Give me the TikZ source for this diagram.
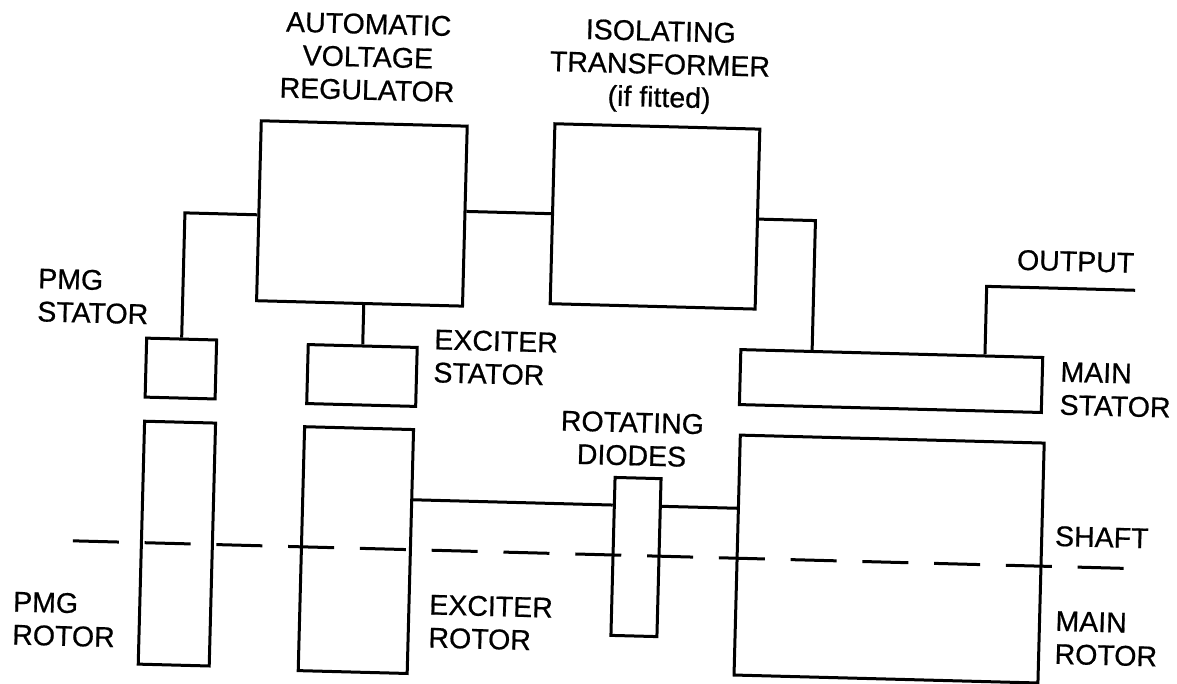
\documentclass[tikz,border=0pt]{standalone}
\usepackage{fontspec}
\setmainfont{Liberation Sans}
\usetikzlibrary{calc}
\tikzset{
  box/.style={draw, rectangle, line width=3pt, inner sep=0pt},
  wire/.style={line width=3pt},
  shaftline/.style={line width=3pt, dash pattern=on 46pt off 25.8pt},
  lbl/.style={font=\fontsize{28.5}{33}\selectfont\addfontfeature{FakeBold=0.6}, inner sep=0pt, outer sep=0pt},
}
\begin{document}
\begin{tikzpicture}[x=1pt,y=-1pt]
\fill[white] (0,0) rectangle (1177,684);
\useasboundingbox (0,0) rectangle (1177,684);
\begin{scope}[rotate around={-1.5:(588,342)}, transform shape]
  % boxes
  \node[box, minimum width=206pt, minimum height=180pt] (avr)  at (358.6,219.4) {};
  \node[box, minimum width=205pt, minimum height=180pt] (iso)  at (651.7,214.7) {};
  \node[box, minimum width=70pt,  minimum height=59pt]  (pmgs) at (181.7,379.2) {};
  \node[box, minimum width=109pt, minimum height=59pt]  (exs)  at (362.9,381.4) {};
  \node[box, minimum width=302pt, minimum height=55pt]  (ms)   at (892,373.1) {};
  \node[box, minimum width=71pt,  minimum height=243pt] (pmgr) at (182.3,554.3) {};
  \node[box, minimum width=109pt, minimum height=244pt] (exr)  at (361.4,556.1) {};
  \node[box, minimum width=46pt,  minimum height=158pt] (dio)  at (641.6,555.7) {};
  \node[box, minimum width=304pt, minimum height=240pt] (mr)   at (894.7,551.1) {};

  % labels
  \node[lbl, align=center] (avrl) at (360.5,62.8) {AUTOMATIC\\VOLTAGE\\REGULATOR};
  \node[lbl, align=center] (isol) at (652.7,65.1) {ISOLATING\\TRANSFORMER\\(if fitted)};
  \node[lbl, align=left, anchor=west] (pmgsl) at (36.8,309.4) {PMG\\STATOR};
  \node[lbl, align=left, anchor=west] (exsl) at (434.4,360) {EXCITER\\STATOR};
  \node[lbl] (outl) at (1073.4,248.7) {OUTPUT};
  \node[lbl, align=left, anchor=west] (msl) at (1061.2,376.1) {MAIN\\STATOR};
  \node[lbl, align=center] (diol) at (634.5,437.8) {ROTATING\\DIODES};
  \node[lbl, anchor=west] (shl) at (1060.1,523.8) {SHAFT};
  \node[lbl, align=left, anchor=west] (pmgrl) at (20.2,633.1) {PMG\\ROTOR};
  \node[lbl, align=left, anchor=west] (exrl) at (436.3,625.2) {EXCITER\\ROTOR};
  \node[lbl, align=left, anchor=west] (mrl) at (1062.7,625.3) {MAIN\\ROTOR};

  % helper points (aligned with the rotated frame)
  \coordinate (p1) at ($(avr.west)!0.045!(avr.south west)$);
  \coordinate (c1) at ($(pmgs.south)!(p1)!(pmgs.north)$);
  \coordinate (a1) at ($(avr.north east)!(iso.west)!(avr.south east)$);
  \coordinate (t)  at ($(ms.north west)!0.239!(ms.north east)$);
  \coordinate (tb) at ($(ms.south west)!0.239!(ms.south east)$);
  \coordinate (c2) at ($(t)!(iso.east)!(tb)$);
  \coordinate (a2) at ($(avr.south west)!(exs.north)!(avr.south east)$);
  \coordinate (u)  at ($(ms.north west)!0.806!(ms.north east)$);
  \coordinate (ub) at ($(ms.south west)!0.806!(ms.south east)$);
  \coordinate (out) at (1133.6,276);
  \coordinate (c3) at ($(u)!(out)!(ub)$);
  \coordinate (dl) at ($(dio.west)!0.637!(dio.north west)$);
  \coordinate (a3) at ($(exr.north east)!(dl)!(exr.south east)$);
  \coordinate (dr) at ($(dio.east)!0.637!(dio.north east)$);
  \coordinate (a4) at ($(mr.north west)!(dr)!(mr.south west)$);
  \coordinate (sh1) at (78.2,554.3);
  \coordinate (sh2) at (1130.9,554.3);

  % connectors
  \draw[wire] (pmgs.north) -- (c1) -- (p1);
  \draw[wire] (a1) -- (iso.west);
  \draw[wire] (iso.east) -- (c2) -- (t);
  \draw[wire] (a2) -- (exs.north);
  \draw[wire] (u) -- (c3) -- (out);
  \draw[wire] (a3) -- (dl);
  \draw[wire] (dr) -- (a4);
  \draw[shaftline] (sh1) -- (sh2);
\end{scope}
\end{tikzpicture}
\end{document}
